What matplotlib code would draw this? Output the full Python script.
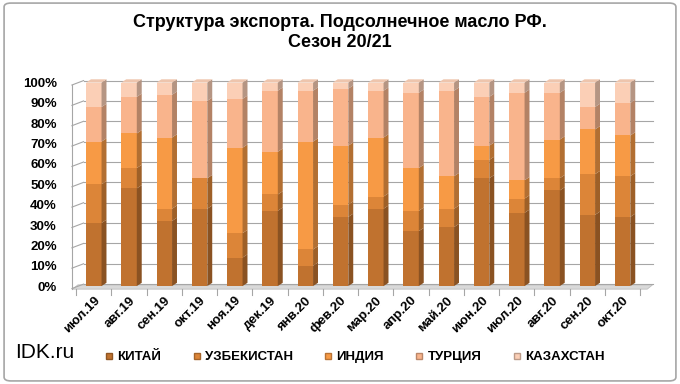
import matplotlib.pyplot as plt
import numpy as np
from matplotlib.patches import Polygon, FancyBboxPatch
from matplotlib.lines import Line2D
from matplotlib.colors import to_rgb

plt.rcParams['font.family'] = ['Liberation Sans Narrow', 'Liberation Sans', 'DejaVu Sans']

months = ['июл.19', 'авг.19', 'сен.19', 'окт.19', 'ноя.19', 'дек.19', 'янв.20', 'фев.20',
          'мар.20', 'апр.20', 'май.20', 'июн.20', 'июл.20', 'авг.20', 'сен.20', 'окт.20']
countries = ['КИТАЙ', 'УЗБЕКИСТАН', 'ИНДИЯ', 'ТУРЦИЯ', 'КАЗАХСТАН']

# shares, %
china = [31, 48, 32, 38, 14, 37, 10, 34, 38, 27, 29, 53, 36, 47, 35, 34]
uzbek = [19, 10, 6, 15, 12, 8, 8, 6, 6, 10, 9, 9, 7, 6, 20, 20]
india = [21, 17, 35, 0, 42, 21, 53, 29, 29, 21, 16, 7, 9, 19, 22, 20]
turkey = [17, 18, 21, 38, 24, 30, 25, 28, 23, 37, 42, 24, 43, 23, 11, 16]
kazakh = [12, 7, 6, 9, 8, 4, 4, 3, 4, 5, 4, 7, 5, 5, 12, 10]

colors = ['#C0722F', '#DC8538', '#F79A45', '#F9B48C', '#FBCFB6']

series = [china, uzbek, india, turkey, kazakh]

fig = plt.figure(figsize=(6.8, 3.84), dpi=100)
border = FancyBboxPatch((0.006, 0.008), 0.988, 0.984, boxstyle='round,pad=0,rounding_size=0.01',
                        transform=fig.transFigure, fc='none', ec='#A6A6A6', lw=1.2, zorder=10)
fig.patches.append(border)
ax = fig.add_axes([0.112, 0.255, 0.845, 0.53])

x = np.arange(len(months))
w = 0.44
dx, dy = 0.14, 1.6

# back wall grid
for g in range(0, 101, 10):
    ax.plot([-0.62, -0.5 + dx * 1.5], [g - 1.2, g + dy * 0.6], color='#A6A6A6', lw=0.8, clip_on=False)
    ax.plot([-0.5 + dx * 1.5, 15.85], [g + dy * 0.6, g + dy * 0.6], color='#A6A6A6', lw=0.8, clip_on=False)
ax.plot([-0.62, -0.62], [-1.2, 98.8], color='#A6A6A6', lw=0.8, clip_on=False)

# floor
ax.add_patch(Polygon([(-0.6, -1.5), (15.7, -1.5), (15.85, 0.6), (-0.45, 0.6)], closed=True,
                     fc='#D9D9D9', ec='#BFBFBF', lw=0.6, clip_on=False))


def darker(c, f):
    r, g, b = to_rgb(c)
    return (r * f, g * f, b * f)


bottom = np.zeros(len(months))
for vals, col in zip(series, colors):
    vals = np.array(vals, dtype=float)
    ax.bar(x, vals, w, bottom=bottom, color=col, edgecolor='none', zorder=3)
    for xi, b0, v in zip(x, bottom, vals):
        if v <= 0:
            continue
        xr = xi + w / 2
        ax.add_patch(Polygon([(xr, b0), (xr + dx, b0 + dy), (xr + dx, b0 + v + dy), (xr, b0 + v)],
                             closed=True, fc=darker(col, 0.72), ec='none', zorder=3, clip_on=False))
    bottom += vals

# top faces
for xi, top in zip(x, bottom):
    xl, xr = xi - w / 2, xi + w / 2
    ax.add_patch(Polygon([(xl, top), (xr, top), (xr + dx, top + dy), (xl + dx, top + dy)], closed=True,
                         fc=darker(colors[-1], 0.95), ec='none', zorder=3, clip_on=False))

ax.set_xlim(-0.5, 15.8)
ax.set_ylim(0, 100)
for s in ax.spines.values():
    s.set_visible(False)
ax.set_yticks(range(0, 101, 10))
ax.set_yticklabels([f'{v}%' for v in range(0, 101, 10)], fontsize=9.5, fontweight='bold')
ax.tick_params(axis='y', length=0, pad=14)
ax.set_xticks(x)
ax.set_xticklabels(months, rotation=45, ha='right', rotation_mode='anchor', fontsize=9.5, fontweight='bold')
ax.tick_params(axis='x', length=0, pad=6)
for xi in np.arange(-0.5, 16, 1.0):
    ax.plot([xi, xi], [-1.5, -4.5], color='#A6A6A6', lw=0.8, clip_on=False)

fig.text(0.5, 0.915, 'Структура экспорта. Подсолнечное масло РФ.\nСезон 20/21', ha='center', va='center',
         fontsize=13, fontweight='bold', linespacing=1.25)
fig.text(0.022, 0.083, 'IDK.ru', fontsize=15, va='center')

handles = [Line2D([], [], marker='s', ls='none', markersize=5, markerfacecolor=c,
                  markeredgecolor=darker(c, 0.75)) for c in colors]
fig.legend(handles, countries, loc='center', bbox_to_anchor=(0.52, 0.07), ncol=5, frameon=False,
           prop={'weight': 'bold', 'size': 9.5}, handletextpad=0.1, columnspacing=2.2, handlelength=1)

fig.savefig('out.png', dpi=100)
